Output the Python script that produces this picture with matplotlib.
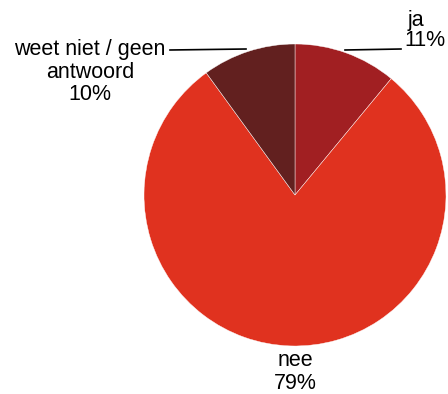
import matplotlib
matplotlib.use("Agg")
import matplotlib.pyplot as plt

labels = ["ja", "nee", "weet niet / geen\nantwoord"]
shares = [11, 79, 10]
colors = ["#A11F22", "#E0321F", "#62201F"]

W, H = 448, 394
fig = plt.figure(figsize=(W / 100, H / 100), dpi=100)
ax = fig.add_axes([0, 0, 1, 1])


def py(y):
    # pixel row (top = 0) to data y
    return H - y


cx, cy, r = 295, 195, 151
ax.pie(shares, colors=colors, startangle=90, counterclock=False,
       center=(cx, py(cy)), radius=r, frame=True,
       wedgeprops=dict(edgecolor="#ffffff", linewidth=0.3))
ax.set_xlim(0, W)
ax.set_ylim(0, H)
ax.set_aspect("auto")
ax.axis("off")

font = dict(family="Liberation Sans", fontsize=15.5, color="black",
            ha="center", va="center", linespacing=1.07)

# ja
ax.text(416, py(20), labels[0], **font)
ax.text(425, py(40), f"{shares[0]}%", **font)
ax.plot([345, 401], [py(50), py(49)], color="black", lw=1.2)
# nee
ax.text(cx, py(372), f"{labels[1]}\n{shares[1]}%", **font)
# weet niet / geen antwoord
ax.text(90, py(72), f"{labels[2]}\n{shares[2]}%", **font)
ax.plot([170, 246], [py(50), py(49)], color="black", lw=1.2)

fig.savefig("out.png", dpi=100)
